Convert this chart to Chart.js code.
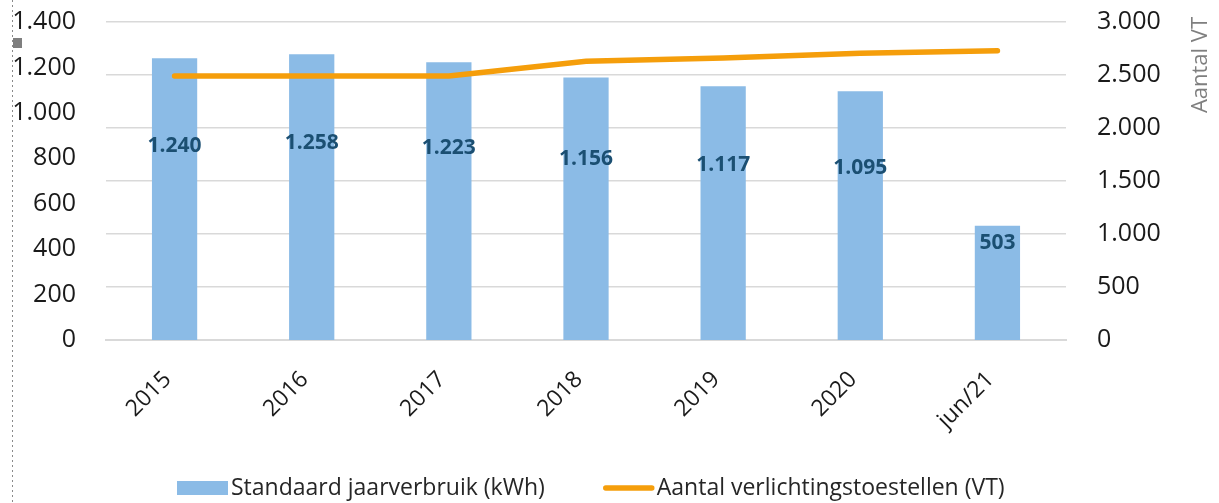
<!DOCTYPE html>
<html>
<head>
<meta charset="utf-8">
<script src="https://cdn.jsdelivr.net/npm/chart.js@4/dist/chart.umd.min.js"></script>
<style>
  body { margin: 0; background: #fff; }
  #wrap { width: 1219px; height: 503px; position: relative; }
</style>
</head>
<body>
<div id="wrap"><canvas id="myChart"></canvas></div>
<script>
const categories = ['2015', '2016', '2017', '2018', '2019', '2020', 'jun/21'];
const verbruik = [1240, 1258, 1223, 1156, 1117, 1095, 503];
const aantalVT = [2490, 2490, 2490, 2630, 2660, 2705, 2728];
const leftTicks = [0, 200, 400, 600, 800, 1000, 1200, 1400];
const rightTicks = [0, 500, 1000, 1500, 2000, 2500, 3000];

const FONT = "'Open Sans', sans-serif";

// dutch style thousands: 1.240
function nl(v) {
    return String(v).replace(/\B(?=(\d{3})+(?!\d))/g, '.');
}

// value labels, legend, right axis title and the page decorations
const extras = {
    id: 'extras',
    afterDatasetsDraw(chart) {
        const ctx = chart.ctx;
        const meta = chart.getDatasetMeta(1);
        const y = chart.scales.y;
        ctx.save();
        ctx.font = "bold 21px " + FONT;
        ctx.fillStyle = '#1B4F72';
        ctx.textAlign = 'center';
        ctx.textBaseline = 'middle';
        meta.data.forEach((bar, i) => {
            const v = verbruik[i];
            const pos = v < 700 ? v - 75 : v * 0.69;
            ctx.fillText(nl(v), bar.x, y.getPixelForValue(pos));
        });
        ctx.restore();
    },
    afterDraw(chart) {
        const ctx = chart.ctx;
        const ds = chart.data.datasets;

        // legend: bars first, then the line
        ctx.save();
        ctx.font = "23px " + FONT;
        ctx.textBaseline = 'middle';
        let x = 177;
        const ly = 488;
        ctx.fillStyle = ds[1].backgroundColor;
        ctx.fillRect(x, ly - 7, 51, 14);
        x += 54;
        ctx.fillStyle = '#262626';
        ctx.fillText(ds[1].label, x, ly);
        x += ctx.measureText(ds[1].label).width + 58;
        ctx.strokeStyle = ds[0].borderColor;
        ctx.lineWidth = 5.5;
        ctx.lineCap = 'round';
        ctx.beginPath();
        ctx.moveTo(x + 3, ly);
        ctx.lineTo(x + 49, ly);
        ctx.stroke();
        x += 54;
        ctx.fillText(ds[0].label, x, ly);
        ctx.restore();

        // title of right axis, reading upward
        ctx.save();
        ctx.translate(1201, 65);
        ctx.rotate(-Math.PI / 2);
        ctx.font = "22px " + FONT;
        ctx.fillStyle = '#7F7F7F';
        ctx.textAlign = 'center';
        ctx.textBaseline = 'middle';
        ctx.fillText('Aantal VT', 0, 0);
        ctx.restore();

        ctx.save();
        ctx.strokeStyle = '#8A8A8A';
        ctx.lineWidth = 1;
        ctx.setLineDash([2, 3]);
        ctx.beginPath();
        ctx.moveTo(12.5, 0);
        ctx.lineTo(12.5, 503);
        ctx.stroke();
        ctx.fillStyle = '#7F7F7F';
        ctx.fillRect(13, 38, 9, 10);
        ctx.restore();
    }
};

const ctx = document.getElementById('myChart');

new Chart(ctx, {
    type: 'bar',
    data: {
        labels: categories,
        datasets: [
            {
                type: 'line',
                label: 'Aantal verlichtingstoestellen (VT)',
                data: aantalVT,
                yAxisID: 'y1',
                borderColor: '#F59E0B',
                backgroundColor: '#F59E0B',
                borderWidth: 5.5,
                borderCapStyle: 'round',
                pointRadius: 0,
                tension: 0
            },
            {
                label: 'Standaard jaarverbruik (kWh)',
                data: verbruik,
                yAxisID: 'y',
                backgroundColor: '#8BBBE6',
                borderWidth: 0,
                categoryPercentage: 1,
                barPercentage: 0.33
            }
        ]
    },
    options: {
        responsive: true,
        maintainAspectRatio: false,
        animation: false,
        layout: { padding: { top: 22, bottom: 0, left: 0, right: 0 } },
        plugins: {
            tooltip: { enabled: false },
            legend: { display: false }
        },
        scales: {
            x: {
                grid: { display: false },
                border: { color: '#D9D9D9', width: 2 },
                ticks: {
                    font: { family: FONT, size: 23 },
                    color: '#1A1A1A',
                    minRotation: 45,
                    maxRotation: 45,
                    padding: 18,
                    labelOffset: -7
                },
                afterFit(scale) { scale.height = 163; }
            },
            y: {
                position: 'left',
                min: 0,
                max: 1400,
                afterBuildTicks(scale) { scale.ticks = leftTicks.map(v => ({ value: v })); },
                grid: { display: false, drawTicks: true, tickLength: 30 },
                border: { display: false },
                ticks: {
                    font: { family: FONT, size: 25 },
                    color: '#1A1A1A',
                    padding: 0,
                    callback: v => nl(v)
                },
                afterFit(scale) { scale.width = 106; }
            },
            y1: {
                position: 'right',
                min: 0,
                max: 3000,
                afterBuildTicks(scale) { scale.ticks = rightTicks.map(v => ({ value: v })); },
                grid: { color: '#D9D9D9', lineWidth: 1.5, drawTicks: true, tickLength: 31, tickColor: 'rgba(0,0,0,0)' },
                border: { display: false },
                ticks: {
                    font: { family: FONT, size: 25 },
                    color: '#1A1A1A',
                    padding: 0,
                    callback: v => nl(v)
                },
                afterFit(scale) { scale.width = 153; }
            }
        }
    },
    plugins: [extras]
});
</script>
</body>
</html>
